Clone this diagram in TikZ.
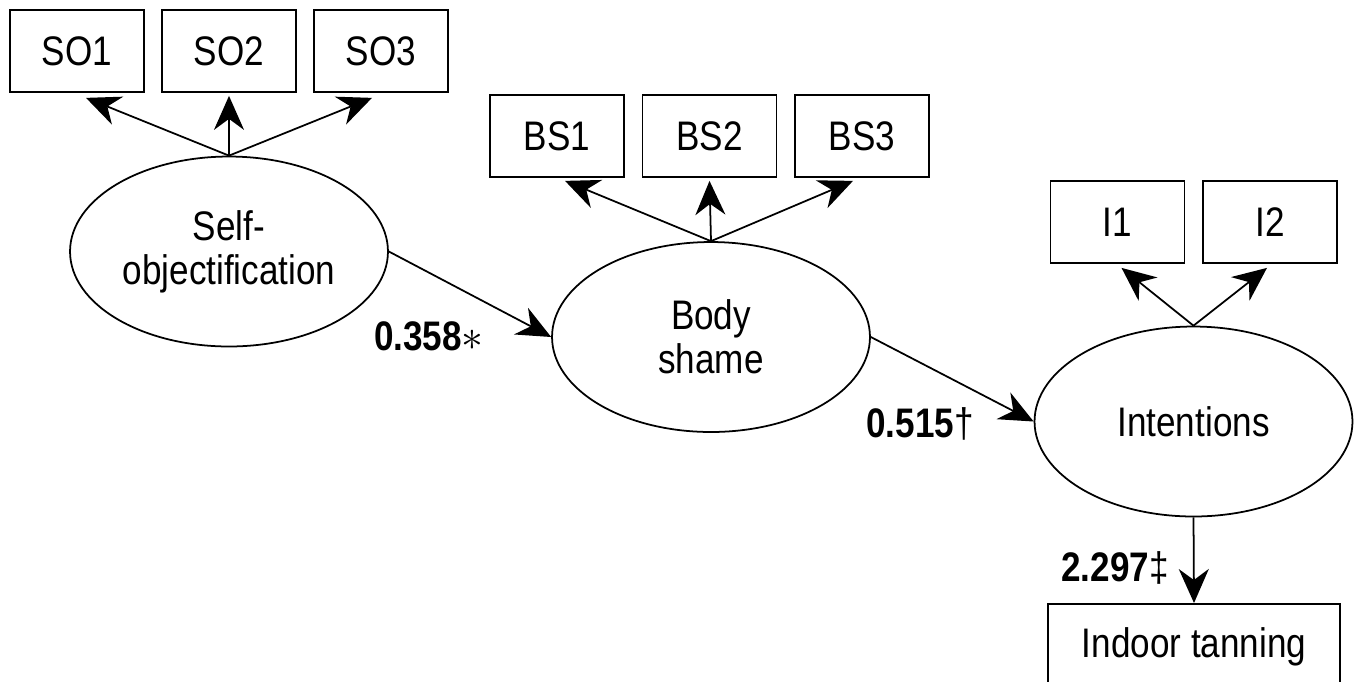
\documentclass[tikz,border=0pt]{standalone}
\usepackage{fontspec}
\setmainfont{Liberation Sans}[FakeStretch=0.85]
\usetikzlibrary{shapes.geometric,arrows.meta}
\begin{document}
\begin{tikzpicture}[x=0.02cm,y=-0.02cm,
  font=\fontsize{23.5}{25}\selectfont,
  lat/.style={draw,ellipse,line width=1pt,minimum width=6.36cm,minimum height=3.8cm,inner sep=0pt,align=center},
  ind/.style={draw,rectangle,line width=1pt,minimum width=2.68cm,minimum height=1.64cm,inner sep=0pt},
  arr/.style={line width=1pt,-{Stealth[length=0.68cm,width=0.6cm,inset=0.22cm]}},
  coef/.style={font=\fontsize{23.5}{25}\selectfont\bfseries,inner sep=0pt}]
\useasboundingbox (0,0) rectangle (1358,681);
\clip (0,0) rectangle (1358,681);
% indicators
\node[ind] (so1) at (77,51) {SO1};
\node[ind] (so2) at (229,51) {SO2};
\node[ind] (so3) at (381,51) {SO3};
\node[ind] (bs1) at (557,136) {BS1};
\node[ind] (bs2) at (709.5,136) {BS2};
\node[ind] (bs3) at (862,136) {BS3};
\node[ind] (i1) at (1117.5,222) {I1};
\node[ind] (i2) at (1270,222) {I2};
\node[draw,rectangle,line width=1pt,minimum width=5.84cm,minimum height=2.2cm,anchor=north,inner sep=0pt] (tan) at (1194,603) {};
\node at (1194,647) {Indoor tanning};
% latent variables
\node[lat] (so) at (229,251.5) {Self-\\objectification};
\node[lat] (bs) at (711,337) {Body\\shame};
\node[lat] (in) at (1193.5,421.5) {Intentions};
% measurement arrows
\draw[arr] (so.north) -- ([xshift=0.18cm,yshift=-0.1cm]so1.south);
\draw[arr] (so.north) -- ([yshift=-0.06cm]so2.south);
\draw[arr] (so.north) -- ([xshift=-0.18cm,yshift=-0.1cm]so3.south);
\draw[arr] (bs.north) -- ([xshift=0.16cm,yshift=-0.06cm]bs1.south);
\draw[arr] (bs.north) -- ([yshift=-0.06cm]bs2.south);
\draw[arr] (bs.north) -- ([xshift=-0.18cm,yshift=-0.06cm]bs3.south);
\draw[arr] (in.north) -- ([xshift=0.08cm,yshift=-0.08cm]i1.south);
\draw[arr] (in.north) -- ([xshift=-0.06cm,yshift=-0.08cm]i2.south);
% structural arrows
\draw[arr] (so.east) -- (bs.west);
\draw[arr] (bs.east) -- (in.west);
\draw[arr] (in.south) -- (tan.north);
% coefficients
\node[coef] (c1) at (429,336) {0.358{\mdseries$\ast$}};
\node[coef] (c2) at (920,424) {0.515{\mdseries †}};
\node[coef] (c3) at (1115,568) {2.297{\mdseries ‡}};
\end{tikzpicture}
\end{document}
